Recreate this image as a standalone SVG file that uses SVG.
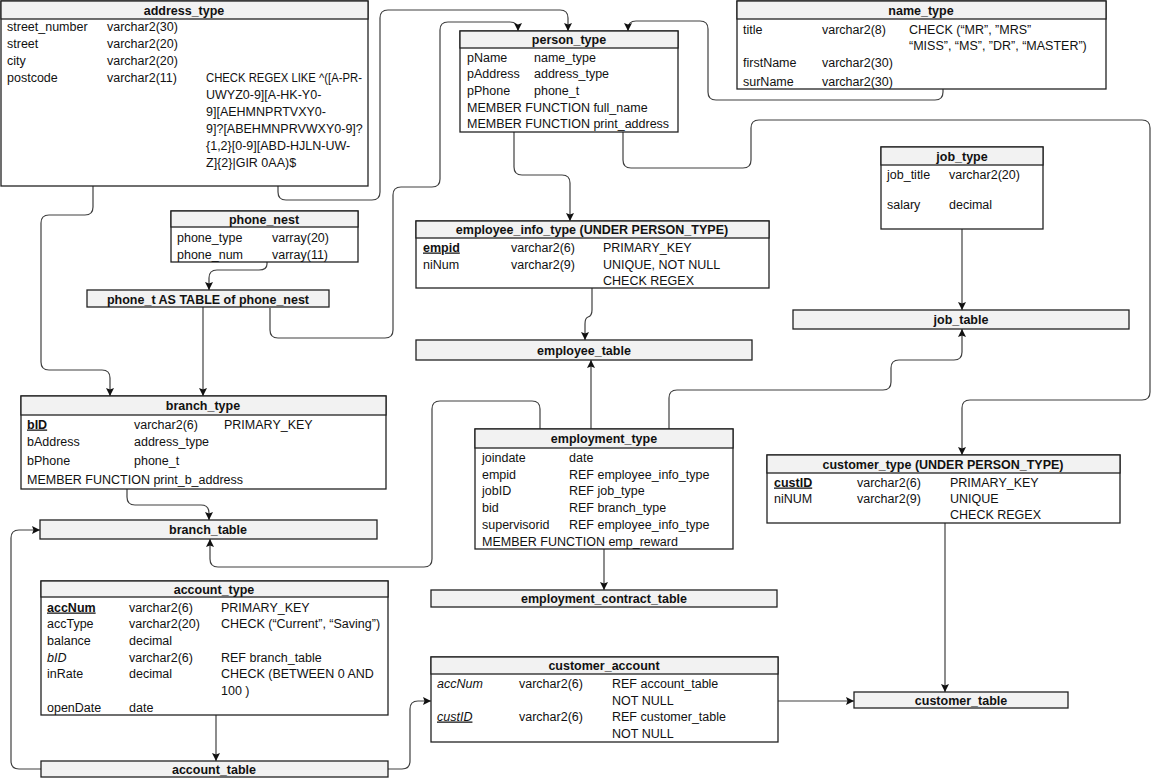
<svg xmlns="http://www.w3.org/2000/svg" width="1160" height="780" viewBox="0 0 1160 780">
<style>
text{font-family:"Liberation Sans",Arial,sans-serif;font-size:12.5px;fill:#111}
.h{font-weight:bold;text-anchor:middle}
.box{fill:#fff;stroke:#222;stroke-width:1.3}
.hd{fill:#f2f2f2;stroke:#222;stroke-width:1.3}
.c{fill:none;stroke:#404040;stroke-width:1.2}
.u{text-decoration:underline}
.b{font-weight:bold}
.i{font-style:italic}
</style>
<defs>
<marker id="a" markerUnits="userSpaceOnUse" markerWidth="9" markerHeight="8" refX="8" refY="4" orient="auto">
<path d="M0,0 L8,4 L0,8 L1.5,4 z" fill="#111"/>
</marker>
</defs>
<rect width="1160" height="780" fill="#fff"/>

<g id="connectors" class="c" marker-end="url(#a)">
<path d="M278,186 V192 Q278,200 286,200 H372 Q380,200 380,192 V18 Q380,10 388,10 H560 Q568,10 568,18 V31"/>
<path d="M270,308 V330 Q270,338 278,338 H385 Q393,338 393,330 V195 Q393,187 401,187 H432 Q440,187 440,179 V30 Q440,22 448,22 H510 Q518,22 518,30 V31"/>
<path d="M943,89 V92 Q943,100 935,100 H716 Q708,100 708,92 V29 Q708,21 700,21 H636 Q628,21 628,29 V31"/>
<path d="M514,132 V167 Q514,175 522,175 H562 Q570,175 570,183 V221"/>
<path d="M623,132 V160 Q623,168 631,168 H743 Q751,168 751,160 V128 Q751,120 759,120 H1142 Q1150,120 1150,128 V392 Q1150,400 1142,400 H970 Q962,400 962,408 V455"/>
<path d="M592,288 V310 Q592,316 588,317 Q585,318 585,324 V340"/>
<path d="M591,429 V360"/>
<path d="M669,429 V398 Q669,390 677,390 H883 Q891,390 891,382 V368 Q891,360 899,360 H954 Q962,360 962,352 V329"/>
<path d="M540,429 V409 Q540,401 532,401 H440 Q432,401 432,409 V559 Q432,567 424,567 H218 Q210,567 210,559 V539"/>
<path d="M604,549 V590"/>
<path d="M267,262 V264 Q267,270 259,270 H217 Q209,270 209,278 V290"/>
<path d="M203,307 V396"/>
<path d="M93,186 V207 Q93,215 85,215 H49 Q41,215 41,223 V362 Q41,370 49,370 H102 Q110,370 110,378 V396"/>
<path d="M127,489 V497 Q127,505 135,505 H201 Q209,505 209,513 V520"/>
<path d="M216,715 V761"/>
<path d="M41,769 H19 Q11,769 11,761 V538 Q11,530 19,530 H40"/>
<path d="M388,769 H402 Q410,769 410,761 V709 Q410,701 418,701 H431"/>
<path d="M945,523 V692"/>
<path d="M778,701 H854"/>
<path d="M962,229 V310"/>
</g>

<g id="address_type">
<rect class="box" x="1" y="1" width="367" height="185"/>
<rect class="hd" x="1" y="1" width="367" height="18"/>
<text class="h" x="184" y="15">address_type</text>
<text x="7" y="31">street_number</text><text x="107" y="31">varchar2(30)</text>
<text x="7" y="48">street</text><text x="107" y="48">varchar2(20)</text>
<text x="7" y="65">city</text><text x="107" y="65">varchar2(20)</text>
<text x="7" y="82">postcode</text><text x="107" y="82">varchar2(11)</text>
<text x="206" y="82" textLength="156" lengthAdjust="spacingAndGlyphs">CHECK REGEX LIKE ^([A-PR-</text>
<text x="206" y="99">UWYZ0-9][A-HK-Y0-</text>
<text x="206" y="116">9][AEHMNPRTVXY0-</text>
<text x="206" y="133">9]?[ABEHMNPRVWXY0-9]?</text>
<text x="206" y="150">{1,2}[0-9][ABD-HJLN-UW-</text>
<text x="206" y="167">Z]{2}|GIR 0AA)$</text>
</g>

<g id="name_type">
<rect class="box" x="737" y="1" width="369" height="88"/>
<rect class="hd" x="737" y="1" width="369" height="18"/>
<text class="h" x="921" y="14.5">name_type</text>
<text x="743" y="33.5">title</text><text x="822" y="33.5">varchar2(8)</text>
<text x="909" y="33.5">CHECK (“MR”, ”MRS”</text>
<text x="909" y="49.5">“MISS”, “MS”, ”DR”, “MASTER”)</text>
<text x="743" y="66.5">firstName</text><text x="822" y="66.5">varchar2(30)</text>
<text x="743" y="85.5">surName</text><text x="822" y="85.5">varchar2(30)</text>
</g>

<g id="person_type">
<rect class="box" x="460" y="31" width="218" height="101"/>
<rect class="hd" x="460" y="31" width="218" height="17"/>
<text class="h" x="569" y="44">person_type</text>
<text x="467" y="61.5">pName</text><text x="534" y="61.5">name_type</text>
<text x="467" y="77.5">pAddress</text><text x="534" y="77.5">address_type</text>
<text x="467" y="94.5">pPhone</text><text x="534" y="94.5">phone_t</text>
<text x="467" y="111.5">MEMBER FUNCTION full_name</text>
<text x="467" y="127.5">MEMBER FUNCTION print_address</text>
</g>

<g id="phone_nest">
<rect class="box" x="171" y="211" width="187" height="51"/>
<rect class="hd" x="171" y="211" width="187" height="16"/>
<text class="h" x="264" y="223.5">phone_nest</text>
<text x="177" y="241.5">phone_type</text><text x="272" y="241.5">varray(20)</text>
<text x="177" y="258.5">phone_num</text><text x="272" y="258.5">varray(11)</text>
</g>

<g id="phone_t">
<rect class="hd" x="87" y="290" width="242" height="17"/>
<text class="h" x="208" y="303.5">phone_t AS TABLE of phone_nest</text>
</g>

<g id="employee_info_type">
<rect class="box" x="416" y="221" width="353" height="67"/>
<rect class="hd" x="416" y="221" width="353" height="17"/>
<text class="h" x="592" y="234">employee_info_type (UNDER PERSON_TYPE)</text>
<text x="423" y="251.5" class="b u">empid</text><text x="511" y="251.5">varchar2(6)</text><text x="603" y="251.5">PRIMARY_KEY</text>
<text x="423" y="268.5">niNum</text><text x="511" y="268.5">varchar2(9)</text><text x="603" y="268.5">UNIQUE, NOT NULL</text>
<text x="603" y="284.5">CHECK REGEX</text>
</g>

<g id="employee_table">
<rect class="hd" x="416" y="340" width="336" height="20"/>
<text class="h" x="584" y="354.5">employee_table</text>
</g>

<g id="job_type">
<rect class="box" x="881" y="147" width="162" height="82"/>
<rect class="hd" x="881" y="147" width="162" height="18"/>
<text class="h" x="962" y="160.5">job_type</text>
<text x="887" y="178.5">job_title</text><text x="949" y="178.5">varchar2(20)</text>
<text x="887" y="208.5">salary</text><text x="949" y="208.5">decimal</text>
</g>

<g id="job_table">
<rect class="hd" x="793" y="310" width="336" height="19"/>
<text class="h" x="961" y="324">job_table</text>
</g>

<g id="branch_type">
<rect class="box" x="21" y="396" width="365" height="93"/>
<rect class="hd" x="21" y="396" width="365" height="19"/>
<text class="h" x="203" y="410">branch_type</text>
<text x="27" y="428.5" class="b u">bID</text><text x="134" y="428.5">varchar2(6)</text><text x="224" y="428.5">PRIMARY_KEY</text>
<text x="27" y="445.5">bAddress</text><text x="134" y="445.5">address_type</text>
<text x="27" y="464.5">bPhone</text><text x="134" y="464.5">phone_t</text>
<text x="27" y="483.5">MEMBER FUNCTION print_b_address</text>
</g>

<g id="branch_table">
<rect class="hd" x="40" y="520" width="337" height="19"/>
<text class="h" x="208" y="534">branch_table</text>
</g>

<g id="employment_type">
<rect class="box" x="475" y="429" width="258" height="120"/>
<rect class="hd" x="475" y="429" width="258" height="19"/>
<text class="h" x="604" y="443">employment_type</text>
<text x="482" y="461.5">joindate</text><text x="569" y="461.5">date</text>
<text x="482" y="478.5">empid</text><text x="569" y="478.5">REF employee_info_type</text>
<text x="482" y="494.5">jobID</text><text x="569" y="494.5">REF job_type</text>
<text x="482" y="511.5">bid</text><text x="569" y="511.5">REF branch_type</text>
<text x="482" y="528.5">supervisorid</text><text x="569" y="528.5">REF employee_info_type</text>
<text x="482" y="545.5">MEMBER FUNCTION emp_reward</text>
</g>

<g id="employment_contract_table">
<rect class="hd" x="431" y="590" width="346" height="17"/>
<text class="h" x="604" y="603">employment_contract_table</text>
</g>

<g id="customer_type">
<rect class="box" x="767" y="455" width="353" height="68"/>
<rect class="hd" x="767" y="455" width="353" height="18"/>
<text class="h" x="943" y="468.5">customer_type (UNDER PERSON_TYPE)</text>
<text x="774" y="486.5" class="b u">custID</text><text x="857" y="486.5">varchar2(6)</text><text x="950" y="486.5">PRIMARY_KEY</text>
<text x="774" y="502.5">niNUM</text><text x="857" y="502.5">varchar2(9)</text><text x="950" y="502.5">UNIQUE</text>
<text x="950" y="518.5">CHECK REGEX</text>
</g>

<g id="customer_table">
<rect class="hd" x="854" y="692" width="214" height="16"/>
<text class="h" x="961" y="704.5">customer_table</text>
</g>

<g id="account_type">
<rect class="box" x="41" y="581" width="347" height="134"/>
<rect class="hd" x="41" y="581" width="347" height="16"/>
<text class="h" x="214" y="593.5">account_type</text>
<text x="47" y="611.5" class="b u">accNum</text><text x="129" y="611.5">varchar2(6)</text><text x="221" y="611.5">PRIMARY_KEY</text>
<text x="47" y="627.5">accType</text><text x="129" y="627.5">varchar2(20)</text><text x="221" y="627.5">CHECK (“Current”, “Saving”)</text>
<text x="47" y="644.5">balance</text><text x="129" y="644.5">decimal</text>
<text x="47" y="661.5" class="i">bID</text><text x="129" y="661.5">varchar2(6)</text><text x="221" y="661.5">REF branch_table</text>
<text x="47" y="677.5">inRate</text><text x="129" y="677.5">decimal</text><text x="221" y="677.5">CHECK (BETWEEN 0 AND</text>
<text x="221" y="694.5">100 )</text>
<text x="47" y="711.5">openDate</text><text x="129" y="711.5">date</text>
</g>

<g id="account_table">
<rect class="hd" x="41" y="761" width="347" height="16"/>
<text class="h" x="214" y="773.5">account_table</text>
</g>

<g id="customer_account">
<rect class="box" x="431" y="657" width="347" height="85"/>
<rect class="hd" x="431" y="657" width="347" height="17"/>
<text class="h" x="604" y="670">customer_account</text>
<text x="437" y="687.5" class="i">accNum</text><text x="519" y="687.5">varchar2(6)</text><text x="612" y="687.5">REF account_table</text>
<text x="612" y="704.5">NOT NULL</text>
<text x="437" y="720.5" class="i u">custID</text><text x="519" y="720.5">varchar2(6)</text><text x="612" y="720.5">REF customer_table</text>
<text x="612" y="737.5">NOT NULL</text>
</g>
</svg>
